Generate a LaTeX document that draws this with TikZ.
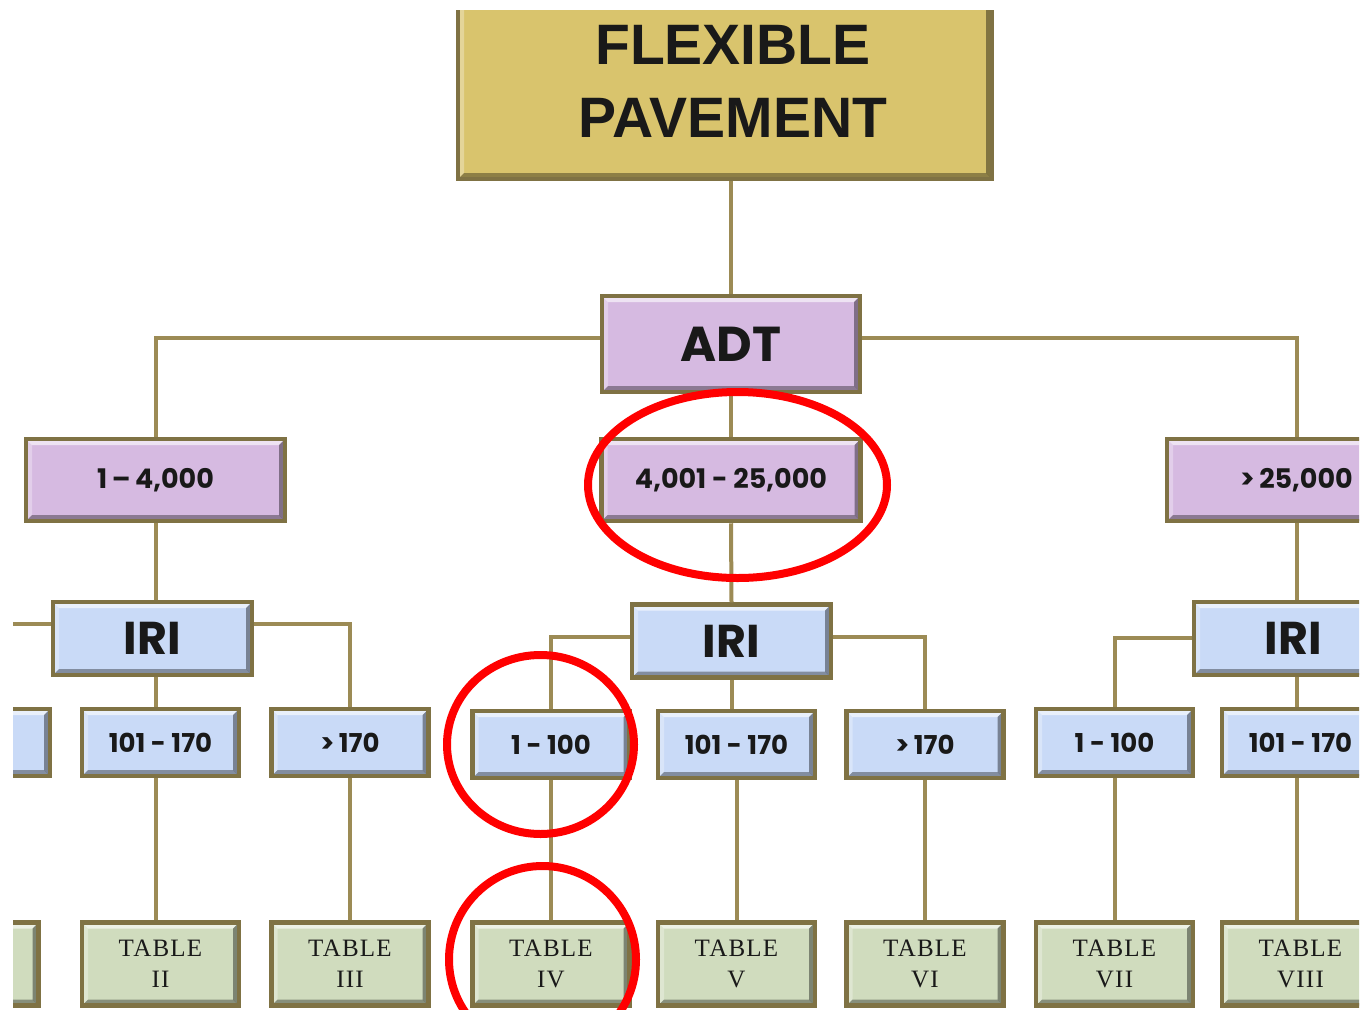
\documentclass[tikz,border=0pt]{standalone}
\usepackage{fontspec}
\setmainfont{Liberation Serif}
\newfontfamily\popfont{Poppins}
\newfontfamily\headfont{Liberation Sans}
\newfontfamily\tabfont[LetterSpace=5]{Liberation Serif}
\usetikzlibrary{calc,shapes.geometric}
\definecolor{goldfill}{HTML}{D9C46D}
\definecolor{lavfill}{HTML}{D6BAE1}
\definecolor{bluefill}{HTML}{C9DAF7}
\definecolor{greenfill}{HTML}{D0DCBE}
\definecolor{boxedge}{HTML}{7F7244}
\definecolor{linkcol}{HTML}{9C8B55}
\definecolor{markred}{HTML}{FF0000}
\tikzset{
  bev/.style={draw=boxedge, line width=4.5pt, inner sep=0pt, text=black!90,
    path picture={
      \fill[white,opacity=.6] (path picture bounding box.north west) -- (path picture bounding box.north east) -- ([shift={(-6pt,-6pt)}]path picture bounding box.north east) -- ([shift={(6pt,-6pt)}]path picture bounding box.north west) -- cycle;
      \fill[white,opacity=.3] (path picture bounding box.north west) -- (path picture bounding box.south west) -- ([shift={(6pt,6pt)}]path picture bounding box.south west) -- ([shift={(6pt,-6pt)}]path picture bounding box.north west) -- cycle;
      \fill[black,opacity=.4] (path picture bounding box.north east) -- (path picture bounding box.south east) -- ([shift={(-6pt,6pt)}]path picture bounding box.south east) -- ([shift={(-6pt,-6pt)}]path picture bounding box.north east) -- cycle;
      \fill[black,opacity=.35] (path picture bounding box.south west) -- (path picture bounding box.south east) -- ([shift={(-6pt,6pt)}]path picture bounding box.south east) -- ([shift={(6pt,6pt)}]path picture bounding box.south west) -- cycle;
    }},
  headbox/.style={bev, fill=goldfill, minimum width=534pt, minimum height=197pt},
  adtbox/.style={bev, fill=lavfill, minimum width=258pt, minimum height=96pt, font=\popfont\bfseries\fontsize{49}{56}\selectfont},
  rangebox/.style={bev, fill=lavfill, minimum width=259pt, minimum height=82pt, font=\popfont\bfseries\fontsize{27}{32}\selectfont},
  iribox/.style={bev, fill=bluefill, minimum width=199pt, minimum height=73pt, font=\popfont\bfseries\fontsize{46}{52}\selectfont},
  valbox/.style={bev, fill=bluefill, minimum width=157pt, minimum height=67pt, font=\popfont\bfseries\fontsize{26}{30}\selectfont},
  tabbox/.style={bev, fill=greenfill, minimum width=157pt, minimum height=83pt, align=center, font=\tabfont\fontsize{25}{31}\selectfont},
  link/.style={draw=linkcol, line width=4pt},
  ring/.style={draw=markred, line width=8pt},
}
\begin{document}
\begin{tikzpicture}[x=1pt,y=-1pt]
\useasboundingbox (0,0) rectangle (1361,1010);
\begin{scope}
\clip (13,10) rectangle (1359,1010);
% nodes
\node[headbox] (fp) at (725,80.5) {};
\node[text=black!90, align=center, font=\headfont\bfseries\fontsize{57}{73}\selectfont] (fptext) at (733,81) {FLEXIBLE\\PAVEMENT};
\node[adtbox] (adt) at (731,344) {ADT};
\node[rangebox] (a1) at (155.5,480) {1\,–\,4,000};
\node[rangebox] (a2) at (731,480) {4,001 - 25,000};
\node[rangebox] (a3) at (1296.5,480) {>\,25,000};
\node[iribox] (iri1) at (152.5,638.5) {IRI};
\node[iribox] (iri2) at (731.5,641) {IRI};
\node[iribox] (iri3) at (1293.5,638.5) {IRI};
\node[valbox] (l1a) at (-28.5,742.5) {};
\node[valbox] (l1b) at (160.5,742.5) {101 - 170};
\node[valbox] (l1c) at (350,742.5) {>\,170};
\node[valbox] (m1) at (551,744.5) {1 - 100};
\node[valbox] (m2) at (736.5,744.5) {101 - 170};
\node[valbox] (m3) at (925,744.5) {>\,170};
\node[valbox] (r1) at (1114.5,742.5) {1 - 100};
\node[valbox] (r2) at (1300.5,742.5) {101 - 170};
\node[tabbox] (t1) at (-40,964) {};
\node[tabbox] (t2) at (160.5,964) {TABLE\\II};
\node[tabbox] (t3) at (350,964) {TABLE\\III};
\node[tabbox] (t4) at (551,964) {TABLE\\IV};
\node[tabbox] (t5) at (736.5,964) {TABLE\\V};
\node[tabbox] (t6) at (925,964) {TABLE\\VI};
\node[tabbox] (t7) at (1114.5,964) {TABLE\\VII};
\node[tabbox] (t8) at (1300.5,964) {TABLE\\VIII};
% connectors
\draw[link] (fp.south -| adt.north) -- (adt.north);
\draw[link] ([yshift=6pt]adt.west) -| (a1.north);
\draw[link] ([yshift=6pt]adt.east) -| (a3.north);
\draw[link] (adt.south) -- (a2.north);
\draw[link] (a1.south) -- (a1.south |- iri1.north);
\draw[link] (a2.south) -- (iri2.north);
\draw[link] (a3.south) -- (a3.south |- iri3.north);
\draw[link] ([yshift=15pt]iri1.west) -- ([yshift=15pt]iri1.west -| l1a.north);
\draw[link] ([yshift=15pt]iri1.east) -| (l1c.north);
\draw[link] (iri1.south -| a1.south) -- (l1b.north -| a1.south);
\draw[link] ([yshift=4pt]iri2.west) -| (m1.north);
\draw[link] ([yshift=4pt]iri2.east) -| (m3.north);
\draw[link] (iri2.south) -- (iri2.south |- m2.north);
\draw[link] ([yshift=1pt]iri3.west) -| (r1.north);
\draw[link] (iri3.south -| a3.south) -- (r2.north -| a3.south);
\draw[link] (l1b.south -| a1.south) -- (t2.north -| a1.south);
\draw[link] (l1c.south) -- (t3.north);
\draw[link] (m1.south) -- (t4.north);
\draw[link] (m2.south) -- (t5.north);
\draw[link] (m3.south) -- (t6.north);
\draw[link] (r1.south) -- (t7.north);
\draw[link] (r2.south -| a3.south) -- (t8.north -| a3.south);
\end{scope}
% red marks
\node[ring, ellipse, minimum width=299pt, minimum height=186pt, inner sep=0pt] (ringA) at (737.5,485) {};
\node[ring, ellipse, minimum width=187pt, minimum height=179pt, inner sep=0pt] (ringB) at (540.5,744.5) {};
\node[ring, ellipse, minimum width=187pt, minimum height=187pt, inner sep=0pt] (ringC) at (542.5,959.5) {};
\end{tikzpicture}
\end{document}
